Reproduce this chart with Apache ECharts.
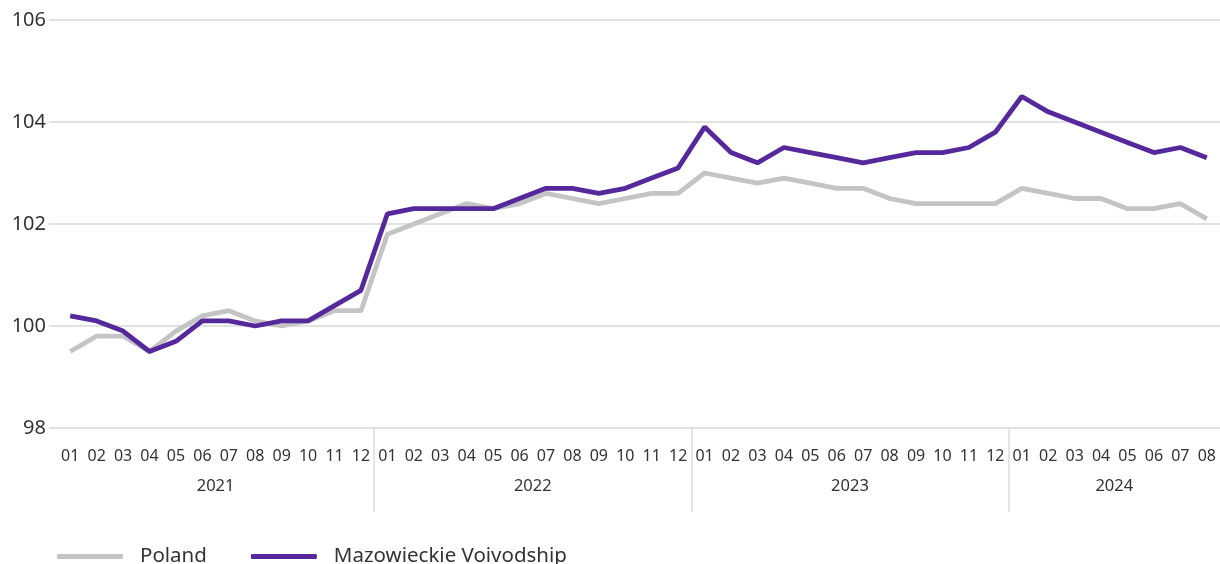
<!DOCTYPE html>
<html><head><meta charset="utf-8">
<script src="https://cdn.jsdelivr.net/npm/echarts@6/dist/echarts.min.js"></script>
<style>html,body{margin:0;padding:0;background:#fff}#c{width:1220px;height:564px}</style>
</head><body><div id="c"></div>
<script>
const years = ['2021', '2022', '2023', '2024'];
const monthsPerYear = [12, 12, 12, 8];
const monthLabels = [
  '01','02','03','04','05','06','07','08','09','10','11','12',
  '01','02','03','04','05','06','07','08','09','10','11','12',
  '01','02','03','04','05','06','07','08','09','10','11','12',
  '01','02','03','04','05','06','07','08'
];
const poland = [
  99.5, 99.8, 99.8, 99.5, 99.9, 100.2, 100.3, 100.1, 100.0, 100.1, 100.3, 100.3,
  101.8, 102.0, 102.2, 102.4, 102.3, 102.4, 102.6, 102.5, 102.4, 102.5, 102.6, 102.6,
  103.0, 102.9, 102.8, 102.9, 102.8, 102.7, 102.7, 102.5, 102.4, 102.4, 102.4, 102.4,
  102.7, 102.6, 102.5, 102.5, 102.3, 102.3, 102.4, 102.1
];
const mazowieckie = [
  100.2, 100.1, 99.9, 99.5, 99.7, 100.1, 100.1, 100.0, 100.1, 100.1, 100.4, 100.7,
  102.2, 102.3, 102.3, 102.3, 102.3, 102.5, 102.7, 102.7, 102.6, 102.7, 102.9, 103.1,
  103.9, 103.4, 103.2, 103.5, 103.4, 103.3, 103.2, 103.3, 103.4, 103.4, 103.5, 103.8,
  104.5, 104.2, 104.0, 103.8, 103.6, 103.4, 103.5, 103.3
];
const seriesNames = ['Poland', 'Mazowieckie Voivodship'];
const yMin = 98, yMax = 106, yStep = 2;

// year label centres and divider positions (in category index units)
const yearCenters = [], dividers = [];
let start = 0;
monthsPerYear.forEach((n, i) => {
  yearCenters.push(start + n / 2 - 0.5);
  if (i > 0) dividers.push(start - 0.5);
  start += n;
});

const FONT = 'Noto Sans';
const TXT = '#333333';
const chart = echarts.init(document.getElementById('c'), null, {renderer: 'canvas'});
chart.setOption({
  animation: false,
  backgroundColor: '#ffffff',
  textStyle: {fontFamily: FONT},
  grid: [
    {left: 57, right: 0, top: 20, height: 408, containLabel: false},
    {left: 49, right: 0, top: 20, height: 408, containLabel: false}
  ],
  xAxis: [
    {
      type: 'category', gridIndex: 0, data: monthLabels, boundaryGap: true,
      axisLine: {show: false}, axisTick: {show: false},
      axisLabel: {interval: 0, margin: 20, fontSize: 16, color: TXT, fontFamily: FONT}
    },
    {
      type: 'value', gridIndex: 0, min: -0.5, max: monthLabels.length - 0.5, position: 'bottom',
      splitLine: {show: false}, axisLine: {show: false},
      axisTick: {show: true, customValues: dividers, length: 84, lineStyle: {color: '#dddddd', width: 1.5}},
      axisLabel: {
        customValues: yearCenters, margin: 50, fontSize: 16.5, color: TXT, fontFamily: FONT,
        formatter: v => { const k = yearCenters.findIndex(c => Math.abs(c - v) < 1e-6); return k >= 0 ? years[k] : ''; }
      }
    },
    {type: 'category', gridIndex: 1, data: monthLabels, show: false}
  ],
  yAxis: [
    {type: 'value', gridIndex: 0, min: yMin, max: yMax, interval: yStep, show: false, splitLine: {show: false}},
    {
      type: 'value', gridIndex: 1, min: yMin, max: yMax, interval: yStep,
      axisLine: {show: false}, axisTick: {show: false},
      axisLabel: {margin: 3, fontSize: 20, color: TXT, fontFamily: FONT},
      splitLine: {show: true, lineStyle: {color: '#e2e2e2', width: 2}}
    }
  ],
  legend: {
    left: 52, top: 541, itemWidth: 66, itemHeight: 5, itemGap: 44,
    icon: 'roundRect',
    textStyle: {fontSize: 20.5, color: TXT, fontFamily: FONT, padding: [0, 0, 0, 12]},
    data: seriesNames
  },
  series: [
    {
      name: seriesNames[0], type: 'line', xAxisIndex: 0, yAxisIndex: 0, data: poland,
      symbol: 'none', color: '#c4c4c4', lineStyle: {width: 4.8, color: '#c4c4c4'}, z: 3
    },
    {
      name: seriesNames[1], type: 'line', xAxisIndex: 0, yAxisIndex: 0, data: mazowieckie,
      symbol: 'none', color: '#55289b', lineStyle: {width: 4.8, color: '#55289b'}, z: 4
    }
  ]
});
</script></body></html>
